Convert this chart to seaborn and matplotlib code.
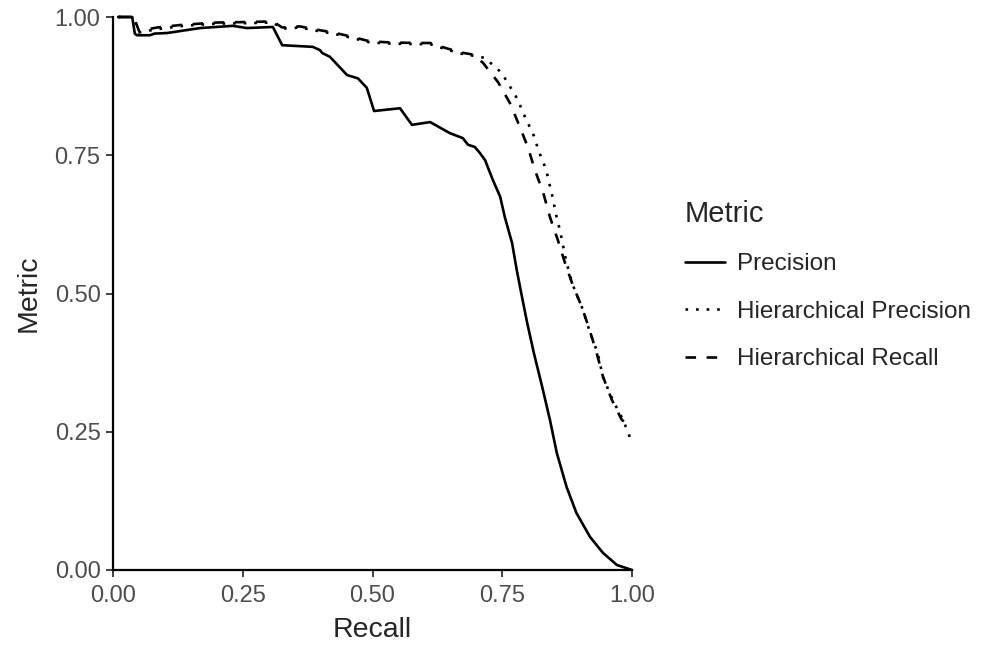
import pandas as pd
import matplotlib
matplotlib.use("Agg")
import matplotlib.pyplot as plt
import seaborn as sns

# ----------------------------------------------------------------------
# Datos (curvas precisión / recall)
# ----------------------------------------------------------------------
prec_x = [0.01, 0.037, 0.042, 0.046, 0.071, 0.08, 0.104, 0.168, 0.231, 0.258,
          0.308, 0.326, 0.385, 0.399, 0.403, 0.418, 0.451, 0.472, 0.489, 0.503,
          0.553, 0.576, 0.611, 0.649, 0.674, 0.684, 0.697, 0.707, 0.717, 0.732,
          0.746, 0.755, 0.769, 0.778, 0.788, 0.798, 0.811, 0.827, 0.842, 0.855,
          0.874, 0.893, 0.919, 0.944, 0.971, 1.0]
prec_y = [1.0, 1.0, 0.97, 0.967, 0.967, 0.97, 0.971, 0.98, 0.984, 0.98,
          0.982, 0.949, 0.946, 0.940, 0.935, 0.928, 0.895, 0.889, 0.872, 0.830,
          0.835, 0.805, 0.810, 0.790, 0.781, 0.769, 0.765, 0.754, 0.741, 0.705,
          0.675, 0.638, 0.591, 0.542, 0.494, 0.447, 0.392, 0.331, 0.271, 0.212,
          0.150, 0.103, 0.060, 0.031, 0.009, 0.0]

hprec_x = [0.01, 0.04, 0.05, 0.085, 0.135, 0.2, 0.264, 0.308, 0.326, 0.36,
           0.393, 0.424, 0.457, 0.495, 0.534, 0.585, 0.611, 0.63, 0.669, 0.694,
           0.717, 0.732, 0.749, 0.761, 0.775, 0.784, 0.794, 0.803, 0.813, 0.819,
           0.829, 0.836, 0.846, 0.855, 0.861, 0.874, 0.886, 0.904, 0.919, 0.934,
           0.944, 0.963, 0.983, 0.996]
hprec_y = [1.0, 1.0, 0.972, 0.978, 0.984, 0.988, 0.989, 0.990, 0.979, 0.981,
           0.975, 0.970, 0.963, 0.954, 0.952, 0.951, 0.951, 0.945, 0.934, 0.930,
           0.926, 0.913, 0.899, 0.880, 0.859, 0.841, 0.819, 0.801, 0.781, 0.760,
           0.738, 0.718, 0.678, 0.637, 0.615, 0.555, 0.515, 0.474, 0.430, 0.392,
           0.349, 0.307, 0.271, 0.240]

hrec_x = [0.01, 0.04, 0.05, 0.085, 0.135, 0.2, 0.264, 0.308, 0.326, 0.36,
          0.393, 0.424, 0.457, 0.495, 0.534, 0.585, 0.611, 0.63, 0.669, 0.694,
          0.713, 0.742, 0.765, 0.784, 0.80, 0.813, 0.829, 0.842, 0.857, 0.871,
          0.886, 0.904, 0.919, 0.932, 0.944, 0.961, 0.98, 0.993]
hrec_y = [1.0, 1.0, 0.975, 0.981, 0.986, 0.990, 0.991, 0.992, 0.981, 0.983,
          0.977, 0.972, 0.965, 0.956, 0.954, 0.953, 0.953, 0.947, 0.936, 0.932,
          0.917, 0.882, 0.844, 0.801, 0.763, 0.723, 0.682, 0.638, 0.597, 0.555,
          0.515, 0.474, 0.432, 0.392, 0.350, 0.308, 0.272, 0.262]

series = ["Precision", "Hierarchical Precision", "Hierarchical Recall"]
tick_vals = [0.0, 0.25, 0.5, 0.75, 1.0]
tick_labels = ["0.00", "0.25", "0.50", "0.75", "1.00"]

df = pd.concat([
    pd.DataFrame({"Recall": prec_x, "Metric": prec_y, "Serie": series[0]}),
    pd.DataFrame({"Recall": hprec_x, "Metric": hprec_y, "Serie": series[1]}),
    pd.DataFrame({"Recall": hrec_x, "Metric": hrec_y, "Serie": series[2]}),
], ignore_index=True)

# ----------------------------------------------------------------------
# Gráfica
# ----------------------------------------------------------------------
sns.set_style("ticks")
plt.rcParams["font.family"] = ["Liberation Sans", "DejaVu Sans"]

fig = plt.figure(figsize=(9.81, 6.48), dpi=100)
ax = fig.add_axes([113 / 981, 78 / 648, 519 / 981, 553 / 648])

sns.lineplot(
    data=df, x="Recall", y="Metric", style="Serie", style_order=series,
    dashes={"Precision": "", "Hierarchical Precision": (1, 3),
            "Hierarchical Recall": (4, 4)},
    color="black", linewidth=1.9, estimator=None, sort=False, ax=ax,
)
for line in ax.lines:
    line.set_clip_on(False)

ax.set_xlim(0, 1)
ax.set_ylim(0, 1)
ax.set_xticks(tick_vals)
ax.set_yticks(tick_vals)
ax.set_xticklabels(tick_labels)
ax.set_yticklabels(tick_labels)
ax.tick_params(labelsize=17, labelcolor="#4d4d4d", color="#333333",
               length=5, width=1.3, pad=4)
ax.tick_params(axis="x", pad=6)
for s in ["left", "bottom"]:
    ax.spines[s].set_linewidth(1.6)
    ax.spines[s].set_color("black")
sns.despine(ax=ax)

ax.set_xlabel("Recall", fontsize=20.5, labelpad=7)
ax.set_ylabel("Metric", fontsize=20.5, labelpad=9)

handles, labels = ax.get_legend_handles_labels()
ax.get_legend().remove()
leg = fig.legend(handles, labels, title="Metric", loc="center left",
                 bbox_to_anchor=(0.676, 0.56), frameon=False, fontsize=17.5,
                 title_fontsize=21, handlelength=1.65, handletextpad=0.5,
                 labelspacing=1.05)
leg._legend_box.align = "left"

fig.savefig("out.png", dpi=100)
